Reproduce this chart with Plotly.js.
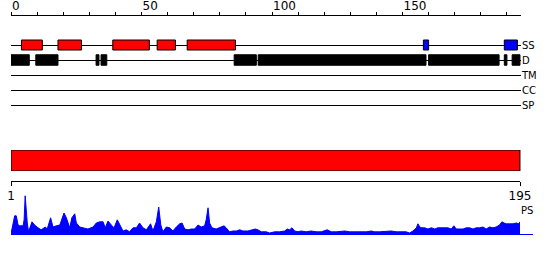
<!DOCTYPE html>
<html><head><meta charset="utf-8">
<script src="https://cdn.plot.ly/plotly-3.0.1.min.js"></script>
<style>html,body{margin:0;padding:0;background:#fff}</style>
</head><body><div id="chart" style="width:550px;height:260px"></div>
<script>
// ---- data ----
const seqLength = 195;
const trackNames = ['SS', 'D', 'TM', 'CC', 'SP'];
const topTickVals = [0, 50, 100, 150];
const topTickText = ['0', '50', '100', '150'];
const bottomTickVals = [1, 195];
const bottomTickText = ['1', '195'];

const helixStart = [4, 18, 39, 56, 67.5];
const helixEnd   = [12, 27, 53, 63, 86];
const strandStart = [158, 189];
const strandEnd   = [160, 194];
const disorderStart = [0, 9.5, 32.6, 34.5, 85.5, 94.7, 160, 189, 192];
const disorderEnd   = [7, 18, 33.7, 36.7, 94, 159, 187, 190, 195];
const regionStart = [0];
const regionEnd   = [195];

const psPos = [
  1,2.4,3,3.7,4.3,5.6,6,6.4,7.2,7.7,
  9,10,11.3,12.5,14.1,14.8,16.1,17,18.3,19.6,
  21.2,22.1,23.4,24.2,25.3,25.9,27.2,28.4,30.3,32.3,
  33.5,34.8,36.1,36.9,38,39.2,40.3,41.5,42.8,43.7,
  44.9,46.2,47.5,48.8,50,51.3,52.6,54.2,55.1,56.4,
  57.3,58.1,58.9,60.2,61.5,62.7,64,65.3,66.2,67.2,
  68.5,69.7,71,72.3,73.5,74.8,75.4,76.1,76.7,77.6,
  79.2,80.5,82.2,83,84.3,85.6,86.9,88.2,89.4,91.3,
  93.2,94.1,95.1,96.4,98.3,99.6,101.5,103.4,105.3,106.3,
  107.2,108.1,109.1,110.4,111.6,113.5,115.4,117.3,119.3,121.5,
  123.1,125,128.2,130.1,132,134.5,136.4,138.3,139.6,141.5,
  144,145.9,147.8,149.1,150.4,151.6,152.9,154.2,155.5,156.1,
  156.8,157.6,158.7,159.9,161.2,162.5,163.7,165,166.3,167.5,
  168.8,169.8,170.7,172,173.3,174.5,175.8,177.1,178.3,179.6,
  180.9,182.1,183.4,184.7,185.9,187.2,188.1,188.9,189.8,191.1,
  192.3,193.6,194.5,195
];
const psScore = [
  0.03,0.48,0.48,0.25,0.23,0.23,0.38,0.98,0.30,0.08,
  0.33,0.25,0.18,0.13,0.20,0.15,0.43,0.20,0.23,0.25,
  0.55,0.43,0.18,0.43,0.53,0.30,0.20,0.18,0.15,0.20,
  0.30,0.33,0.33,0.18,0.35,0.25,0.18,0.38,0.20,0.10,
  0.13,0.08,0.18,0.18,0.30,0.18,0.13,0.28,0.10,0.33,
  0.70,0.25,0.08,0.20,0.18,0.10,0.20,0.28,0.30,0.15,
  0.13,0.15,0.15,0.25,0.20,0.23,0.38,0.68,0.30,0.18,
  0.15,0.18,0.23,0.18,0.08,0.10,0.10,0.13,0.10,0.10,
  0.13,0.15,0.13,0.08,0.08,0.05,0.08,0.08,0.10,0.15,
  0.13,0.18,0.10,0.08,0.10,0.08,0.10,0.08,0.08,0.13,
  0.08,0.08,0.10,0.08,0.08,0.08,0.08,0.10,0.08,0.08,
  0.10,0.10,0.08,0.08,0.08,0.08,0.05,0.10,0.18,0.28,
  0.20,0.18,0.18,0.15,0.18,0.15,0.18,0.18,0.18,0.18,
  0.15,0.23,0.15,0.15,0.15,0.18,0.18,0.15,0.18,0.18,
  0.20,0.15,0.20,0.18,0.20,0.25,0.33,0.30,0.28,0.28,
  0.28,0.30,0.28,0.33
];

// ---- layout helpers ----
const W = 550, H = 260;
const px2x = p => p / W;
const px2y = p => (H - p) / H;
const font = {family: 'DejaVu Sans', size: 12, color: '#000'};
const smallFont = {family: 'DejaVu Sans', size: 10, color: '#000'};
const lens = (s, e) => s.map((v, i) => e[i] - v);

function featureBars(name, starts, ends, color, width) {
  return {
    type: 'bar', orientation: 'h', name: name,
    base: starts, x: lens(starts, ends),
    y: starts.map(() => name.split(' ')[0]),
    width: width, xaxis: 'x', yaxis: 'y',
    marker: {color: color, line: {color: '#000', width: 1}},
    cliponaxis: false, hoverinfo: 'skip'
  };
}

const traces = [
  // register all track categories
  {type: 'scatter', mode: 'markers', x: trackNames.map(() => 0), y: trackNames,
   marker: {opacity: 0, size: 1}, xaxis: 'x', yaxis: 'y', hoverinfo: 'skip'},
  featureBars('SS helix', helixStart, helixEnd, '#ff0000', 0.667),
  featureBars('SS strand', strandStart, strandEnd, '#0000ff', 0.667),
  featureBars('D', disorderStart, disorderEnd, '#000000', 0.7),
  {type: 'bar', orientation: 'h', base: regionStart, x: lens(regionStart, regionEnd),
   y: [0.5], width: 1, xaxis: 'x', yaxis: 'y2',
   marker: {color: '#ff0000', line: {color: '#000', width: 1}}, cliponaxis: false, hoverinfo: 'skip'},
  {type: 'scatter', mode: 'lines', x: psPos, y: psScore, xaxis: 'x2', yaxis: 'y3',
   line: {color: '#0000ff', width: 1}, fill: 'tozeroy', fillcolor: '#0000ff', hoverinfo: 'skip'}
];

const layout = {
  width: W, height: H, autosize: false,
  margin: {l: 0, r: 0, t: 0, b: 0, pad: 0},
  paper_bgcolor: '#fff', plot_bgcolor: 'rgba(0,0,0,0)',
  showlegend: false, barmode: 'overlay', font: font,
  xaxis: {
    domain: [px2x(11), px2x(521)], range: [0, 195.4],
    anchor: 'free', position: px2y(15), side: 'top',
    showline: true, linecolor: '#000', linewidth: 1,
    ticks: 'outside', ticklen: 3, tickcolor: '#000', tickwidth: 1,
    tickmode: 'array', tickvals: topTickVals, ticktext: topTickText,
    ticklabelposition: 'outside right',
    minor: {dtick: 10, tick0: 0, ticks: 'outside', ticklen: 3, tickcolor: '#000', showgrid: false},
    showgrid: false, zeroline: false, tickfont: font
  },
  yaxis: {
    domain: [px2y(112.5), px2y(37.5)], type: 'category',
    categoryorder: 'array', categoryarray: trackNames, range: [4.5, -0.5],
    anchor: 'x', side: 'right', showgrid: true, gridcolor: '#000', gridwidth: 1,
    showline: false, ticks: '', zeroline: false, tickfont: smallFont
  },
  yaxis2: {domain: [px2y(171), px2y(150)], range: [0, 1], anchor: 'x', visible: false},
  xaxis2: {
    domain: [px2x(11), px2x(520)], range: [1, 195],
    anchor: 'free', position: px2y(181), side: 'bottom',
    showline: true, linecolor: '#000', linewidth: 1,
    ticks: 'outside', ticklen: 4, tickcolor: '#000',
    tickmode: 'array', tickvals: bottomTickVals, ticktext: bottomTickText,
    showgrid: false, zeroline: false, tickfont: font
  },
  yaxis3: {domain: [px2y(235), px2y(195)], range: [0, 1], anchor: 'x2', visible: false},
  shapes: [
    {type: 'line', xref: 'paper', yref: 'y3', x0: px2x(11), x1: px2x(533), y0: 0, y1: 0,
     line: {color: '#0000ff', width: 2}}
  ],
  annotations: [
    {xref: 'paper', yref: 'paper', x: px2x(520), y: px2y(210), xanchor: 'left', yanchor: 'middle',
     text: 'PS', showarrow: false, font: smallFont, borderpad: 0}
  ]
};

Plotly.newPlot('chart', traces, layout, {staticPlot: true, displayModeBar: false});
</script>
</body></html>
